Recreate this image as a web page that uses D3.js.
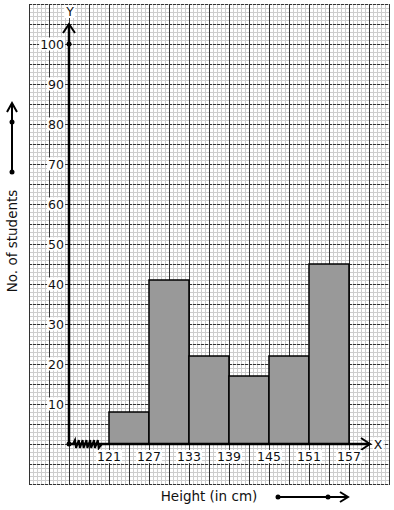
<!DOCTYPE html>
<html><head><meta charset="utf-8">
<script src="https://cdn.jsdelivr.net/npm/d3@7"></script>
<style>body{margin:0;background:#fff}svg{display:block}text{font-family:"DejaVu Sans",sans-serif}</style>
</head><body>
<script>
const binStarts = [121, 127, 133, 139, 145, 151];
const binWidth = 6;
const students = [8, 41, 22, 17, 22, 45];
const xTickLabels = [121, 127, 133, 139, 145, 151, 157];
const yTickLabels = [10, 20, 30, 40, 50, 60, 70, 80, 90, 100];

const W = 394, H = 510;
const svg = d3.select("body").append("svg").attr("width", W).attr("height", H);

const x = d3.scaleLinear().domain([115, 157]).range([69, 349]);
const y = d3.scaleLinear().domain([0, 100]).range([444, 44]);

// graph paper
const gx0 = 29, gx1 = 389, gy0 = 4, gy1 = 484;
const g = svg.append("g");
g.selectAll(".mv").data(d3.range(gx0, gx1 + 0.1, 4)).join("line")
  .attr("x1", d => d + 0.5).attr("x2", d => d + 0.5).attr("y1", gy0).attr("y2", gy1)
  .attr("stroke", "#cdcdcd").attr("stroke-width", 1);
g.selectAll(".mh").data(d3.range(gy0, gy1 + 0.1, 4)).join("line")
  .attr("y1", d => d + 0.5).attr("y2", d => d + 0.5).attr("x1", gx0).attr("x2", gx1)
  .attr("stroke", "#cdcdcd").attr("stroke-width", 1);
g.selectAll(".Mh").data(d3.range(gy0, gy1 + 0.1, 20)).join("line")
  .attr("y1", d => d + 0.5).attr("y2", d => d + 0.5).attr("x1", gx0).attr("x2", gx1 + 1)
  .attr("stroke", "#333").attr("stroke-width", 1).attr("stroke-dasharray", "3,1");
g.selectAll(".Mv").data(d3.range(gx0, gx1 + 0.1, 20)).join("line")
  .attr("x1", d => d + 0.5).attr("x2", d => d + 0.5).attr("y1", gy0).attr("y2", gy1 + 1)
  .attr("stroke", "#333").attr("stroke-width", 1);

// bars
svg.selectAll(".bar").data(binStarts).join("rect")
  .attr("x", d => x(d)).attr("width", d => x(d + binWidth) - x(d))
  .attr("y", (d, i) => y(students[i])).attr("height", (d, i) => y(0) - y(students[i]))
  .attr("fill", "#999").attr("stroke", "#000").attr("stroke-width", 1.5);

// axes
const ax = svg.append("g").attr("stroke", "#000").attr("fill", "none");
ax.append("line").attr("x1", x(115)).attr("x2", 369).attr("y1", y(0)).attr("y2", y(0)).attr("stroke-width", 2.5);
ax.append("line").attr("x1", x(115)).attr("x2", x(115)).attr("y1", y(0)).attr("y2", 25).attr("stroke-width", 2.5);
ax.append("path").attr("d", `M${x(115)-6},${33} L${x(115)},${24} L${x(115)+6},${33}`).attr("stroke-width", 2);
ax.append("path").attr("d", `M361,${y(0)-6} L370,${y(0)} L361,${y(0)+6}`).attr("stroke-width", 2);

// zigzag axis break
let zz = `M${x(115)},${y(0)} L${x(115)+4},${y(0)}`;
for (let i = 0; i < 7; i++) {
  const bx = x(115) + 5 + i * 3.8;
  zz += ` L${bx+1},${y(0)-4} L${bx+2},${y(0)+4}`;
}
zz += ` L${x(115)+33},${y(0)}`;
ax.append("path").attr("d", zz).attr("stroke-width", 2).attr("stroke-linejoin", "miter");
svg.append("circle").attr("cx", x(115)).attr("cy", y(0)).attr("r", 2.5);
svg.append("circle").attr("cx", x(115)).attr("cy", y(100)).attr("r", 2.5);

// labels with white backgrounds
function label(txt, tx, ty, anchor) {
  const t = svg.append("text").attr("x", tx).attr("y", ty).attr("text-anchor", anchor)
    .attr("font-size", 12.5).attr("fill", "#111").text(txt);
  const b = t.node().getBBox();
  svg.insert("rect", () => t.node()).attr("x", b.x - 1).attr("y", b.y + 1)
    .attr("width", b.width + 2).attr("height", b.height - 2).attr("fill", "#fff");
}
yTickLabels.forEach(v => label(v, 64, y(v) + 4.5, "end"));
xTickLabels.forEach(v => label(v, x(v), 461, "middle"));
label("Y", x(115) + 1, 16, "middle");
label("X", 378, y(0) + 4.5, "middle");

// axis titles
svg.append("text").attr("transform", "translate(17,241) rotate(-90)").attr("text-anchor", "middle")
  .attr("font-size", 13.5).attr("fill", "#111").text("No. of students");
svg.append("text").attr("x", 209).attr("y", 501).attr("text-anchor", "middle")
  .attr("font-size", 13.5).attr("fill", "#111").text("Height (in cm)");

// direction arrows
const da = svg.append("g").attr("stroke", "#000").attr("fill", "none").attr("stroke-width", 2);
da.append("line").attr("x1", 12).attr("x2", 12).attr("y1", 172).attr("y2", 104);
da.append("path").attr("d", "M7,112 L12,103 L17,112");
svg.append("circle").attr("cx", 12).attr("cy", 122).attr("r", 2.5);
svg.append("circle").attr("cx", 12).attr("cy", 172).attr("r", 2.5);
da.append("line").attr("x1", 278).attr("x2", 347).attr("y1", 497).attr("y2", 497);
da.append("path").attr("d", "M340,492 L348,497 L340,502");
svg.append("circle").attr("cx", 278).attr("cy", 497).attr("r", 2.5);
svg.append("circle").attr("cx", 328).attr("cy", 497).attr("r", 2.5);
</script>
</body></html>
